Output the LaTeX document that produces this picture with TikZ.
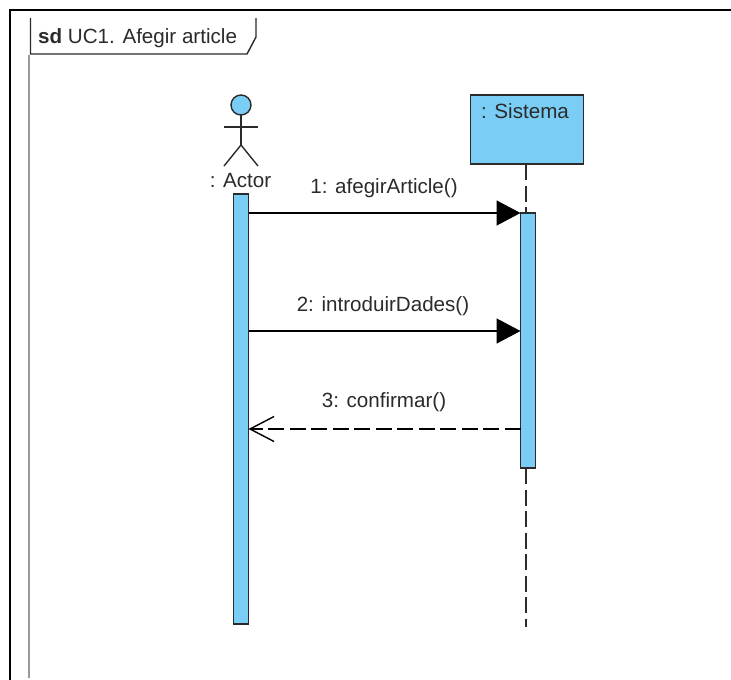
\documentclass[tikz,border=0pt]{standalone}
\usepackage{xcolor}
\usepackage{fontspec}
\setmainfont{Liberation Sans}
\usepackage{tikz}
\usetikzlibrary{calc, arrows.meta}
\definecolor{lifeblue}{HTML}{7ACEF5}
\definecolor{inkgrey}{HTML}{2B2B2B}
\tikzset{
	bar/.style = {draw = inkgrey, fill = lifeblue, line width = 1.6pt, minimum width = 15pt, inner sep = 0pt, outer sep = 0pt},
	msg/.style = {font = \fontsize{20.6}{24}\selectfont, text = inkgrey, inner sep = 0pt},
	call/.style = {line width = 1.4pt, -{Triangle[length = 24pt, width = 25pt]}},
	reply/.style = {line width = 1.4pt, dash pattern = on 16pt off 5.5pt, -{Straight Barb[length = 24pt, width = 25pt, line width = 1.4pt]}},
	lifeline/.style = {line width = 1.6pt, inkgrey, dash pattern = on 16pt off 5.5pt}
}

\begin{document}
\begin{tikzpicture}[x = 1pt, y = -1pt]
		\def\actorx{241}
		\def\sistemax{526}
		\def\msgone{213}
		\def\msgtwo{331}
		\def\msgthree{429}
		
		\useasboundingbox [fill = white] (0,0) rectangle (731,680);
		
		\coordinate (frame top right) at (731,10);
		\coordinate (frame top left) at (10,10);
		\coordinate (frame bottom left) at (10,680);
		\draw [line width = 1.6pt] (frame top right) -- (frame top left) -- (frame bottom left);
		\draw [line width = 1.5pt, black!40] (29,55) -- (29,678);
		\draw [line width = 1.4pt, inkgrey, fill = white] (30.5,18) -- (30.5,54) -- (247,54) -- (256,37) -- (256,18);
		\node (frame title) [msg, anchor = base west] at (38,43.5) {\textbf{sd} UC1. Afegir article};
		
		\node (head) [circle, draw = inkgrey, fill = lifeblue, line width = 1.4pt, minimum size = 20pt, inner sep = 0pt, outer sep = 0pt] at (\actorx,105) {};
		\coordinate (hip) at (\actorx,145);
		\draw [line width = 1.4pt, inkgrey] (head.south) -- (hip);
		\draw [line width = 1.4pt, inkgrey] ($ (hip) + (-17,21) $) -- (hip) -- ($ (hip) + (17,21) $);
		\draw [line width = 1.4pt, inkgrey] (224,127) -- (258,127);
		\node (actor name) [msg] at (240.5,181) {: Actor};
		
		\node (actor bar) [bar, minimum height = 430pt] at (241,409) {};
		
		\node (sistema) [draw = inkgrey, fill = lifeblue, line width = 1.7pt, minimum width = 113pt, minimum height = 69pt, inner sep = 0pt, outer sep = 0pt] at (527,129.5) {};
		\node (sistema name) [msg] at (525,111) {: Sistema};
		
		\node (sistema bar) [bar, minimum height = 255pt] at (528,340.5) {};
		
		\draw [lifeline] (\sistemax,164) -- (\sistemax,213);
		\draw [lifeline] (\sistemax,468) -- (\sistemax,627);
		
		\coordinate (msg1 start) at (actor bar.east |- 0,\msgone);
		\coordinate (msg1 end) at (sistema bar.west |- 0,\msgone);
		\coordinate (msg2 start) at (actor bar.east |- 0,\msgtwo);
		\coordinate (msg2 end) at (sistema bar.west |- 0,\msgtwo);
		\coordinate (msg3 start) at (sistema bar.west |- 0,\msgthree);
		\coordinate (msg3 end) at (actor bar.east |- 0,\msgthree);
		
		\draw [call] (msg1 start) -- (msg1 end);
		\draw [call] (msg2 start) -- (msg2 end);
		\draw [reply] (msg3 start) -- (msg3 end);
		
		\node (msg1 label) [msg] at (384,188) {1: afegirArticle()};
		\node (msg2 label) [msg] at (383,306) {2: introduirDades()};
		\node (msg3 label) [msg] at (384,402) {3: confirmar()};
	\end{tikzpicture}
\end{document}
